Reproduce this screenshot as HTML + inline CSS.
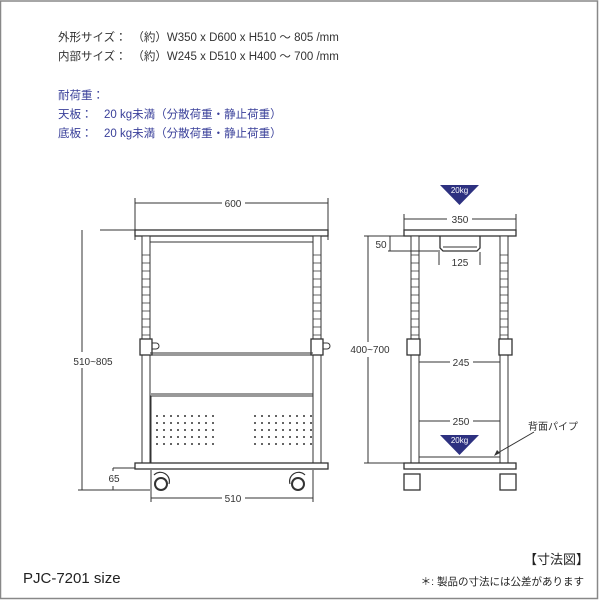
<!DOCTYPE html>
<html><head><meta charset="utf-8"><style>
body{margin:0;background:#fff}
svg{display:block}
text{font-family:"Liberation Sans","Noto Sans CJK JP",sans-serif}
</style></head><body>
<svg width="600" height="600" viewBox="0 0 600 600" xmlns="http://www.w3.org/2000/svg">
<rect x="0.5" y="1" width="597" height="597.5" fill="#fff" stroke="#888" stroke-width="1.5"/>
<g font-size="11.5" fill="#333">
<text x="58" y="41">外形サイズ：　（約）W350 x D600 x H510 ～ 805 /mm</text>
<text x="58" y="60">内部サイズ：　（約）W245 x D510 x H400 ～ 700 /mm</text>
</g>
<g font-size="11.5" fill="#3a409a">
<text x="58" y="99">耐荷重：</text>
<text x="58" y="118">天板：　20 kg未満（分散荷重・静止荷重）</text>
<text x="58" y="137">底板：　20 kg未満（分散荷重・静止荷重）</text>
</g>
<g stroke="#333" fill="none" stroke-width="1">
<!-- front view -->
<line x1="135" y1="198" x2="135" y2="240"/><line x1="328" y1="198" x2="328" y2="240"/>
<line x1="135" y1="203" x2="222" y2="203"/><line x1="245" y1="203" x2="328" y2="203"/>
<rect x="135" y="230" width="193" height="6" fill="#fff" stroke-width="1.3"/>
<rect x="148" y="236" width="167" height="6"/>
<rect x="142" y="236" width="8" height="229" fill="#fff"/>
<rect x="313" y="236" width="8" height="229" fill="#fff"/>
<g stroke-width="0.8">
<path d="M142 255h8M142 263h8M142 271h8M142 279h8M142 287h8M142 295h8M142 303h8M142 311h8M142 319h8M142 327h8M142 335h8"/>
<path d="M313 255h8M313 263h8M313 271h8M313 279h8M313 287h8M313 295h8M313 303h8M313 311h8M313 319h8M313 327h8M313 335h8"/>
</g>
<rect x="140" y="339" width="12" height="16" fill="#fff" stroke-width="1.3"/>
<path d="M152 343h4a3 3 0 0 1 0 6h-4"/>
<rect x="311" y="339" width="12" height="16" fill="#fff" stroke-width="1.3"/>
<path d="M323 343h4a3 3 0 0 1 0 6h-4"/>
<line x1="150" y1="353" x2="313" y2="353"/><line x1="150" y1="355" x2="313" y2="355"/>
<rect x="151" y="396" width="162" height="67"/>
<line x1="151" y1="394" x2="313" y2="394"/>
<rect x="135" y="463" width="193" height="6" fill="#fff" stroke-width="1.3"/>
<circle cx="161" cy="484" r="6" stroke-width="2"/>
<path d="M154 475a9 9 0 0 1 15 9" stroke-width="1.2"/>
<circle cx="298" cy="484" r="6" stroke-width="2"/>
<path d="M305 475a9 9 0 0 0 -15 9" stroke-width="1.2"/>
<line x1="151" y1="470" x2="151" y2="502"/><line x1="313" y1="470" x2="313" y2="502"/>
<line x1="151" y1="498" x2="222" y2="498"/><line x1="245" y1="498" x2="313" y2="498"/>
<line x1="100" y1="230" x2="135" y2="230"/>
<line x1="82" y1="230" x2="82" y2="352"/><line x1="82" y1="368" x2="82" y2="490"/>
<line x1="78" y1="490" x2="150" y2="490"/>
<line x1="113" y1="468" x2="135" y2="468"/>
<line x1="113" y1="468" x2="113" y2="471"/><line x1="113" y1="486" x2="113" y2="490"/>
<!-- side view -->
<line x1="404" y1="214" x2="404" y2="232"/><line x1="516" y1="214" x2="516" y2="232"/>
<line x1="404" y1="219" x2="447" y2="219"/><line x1="472" y1="219" x2="516" y2="219"/>
<rect x="404" y="230" width="112" height="6" fill="#fff" stroke-width="1.3"/>
<rect x="411" y="236" width="8" height="227" fill="#fff"/>
<rect x="500" y="236" width="8" height="227" fill="#fff"/>
<g stroke-width="0.8">
<path d="M411 255h8M411 263h8M411 271h8M411 279h8M411 287h8M411 295h8M411 303h8M411 311h8M411 319h8M411 327h8M411 335h8"/>
<path d="M500 255h8M500 263h8M500 271h8M500 279h8M500 287h8M500 295h8M500 303h8M500 311h8M500 319h8M500 327h8M500 335h8"/>
</g>
<rect x="407" y="339" width="13" height="16" fill="#fff" stroke-width="1.3"/>
<rect x="499" y="339" width="13" height="16" fill="#fff" stroke-width="1.3"/>
<path d="M440 236v12l3 3h34l3-3v-12" stroke-width="1.3"/>
<line x1="443" y1="247" x2="477" y2="247"/>
<line x1="388" y1="236" x2="404" y2="236"/>
<line x1="388" y1="251" x2="440" y2="251"/>
<line x1="390" y1="236" x2="390" y2="251"/>
<line x1="439" y1="252" x2="439" y2="265"/><line x1="480" y1="252" x2="480" y2="265"/>
<line x1="364" y1="236" x2="404" y2="236"/>
<line x1="368" y1="236" x2="368" y2="342"/><line x1="368" y1="357" x2="368" y2="463"/>
<line x1="364" y1="463" x2="404" y2="463"/>
<line x1="419" y1="362" x2="450" y2="362"/><line x1="473" y1="362" x2="500" y2="362"/>
<line x1="419" y1="421" x2="450" y2="421"/><line x1="473" y1="421" x2="500" y2="421"/>
<rect x="419" y="457" width="81" height="6"/>
<rect x="404" y="463" width="112" height="6" fill="#fff" stroke-width="1.3"/>
<rect x="404" y="474" width="16" height="16" stroke-width="1.3"/>
<rect x="500" y="474" width="16" height="16" stroke-width="1.3"/>
<line x1="534" y1="432" x2="496" y2="454"/>
</g>
<path d="M494 456l3-6 3 3z" fill="#333"/>
<g fill="#333">
<g id="dl">
<circle cx="157" cy="416" r="1"/><circle cx="164" cy="416" r="1"/><circle cx="171" cy="416" r="1"/><circle cx="178" cy="416" r="1"/><circle cx="185" cy="416" r="1"/><circle cx="192" cy="416" r="1"/><circle cx="199" cy="416" r="1"/><circle cx="206" cy="416" r="1"/><circle cx="213" cy="416" r="1"/>
</g>
<use href="#dl" y="7"/><use href="#dl" y="14"/><use href="#dl" y="21"/><use href="#dl" y="28"/>
<use href="#dl" x="98"/><use href="#dl" x="98" y="7"/><use href="#dl" x="98" y="14"/><use href="#dl" x="98" y="21"/><use href="#dl" x="98" y="28"/>
</g>
<path d="M440 185h39l-19.5 20z" fill="#2d3180"/>
<path d="M440 435h39l-19.5 20z" fill="#2d3180"/>
<g font-size="8" fill="#fff" text-anchor="middle"><text x="459.5" y="193">20kg</text><text x="459.5" y="443">20kg</text></g>
<g font-size="10" fill="#333" text-anchor="middle">
<text x="233" y="207">600</text>
<text x="233" y="502">510</text>
<text x="93" y="365">510~805</text>
<text x="114" y="482">65</text>
<text x="460" y="223">350</text>
<text x="381" y="248">50</text>
<text x="460" y="266">125</text>
<text x="370" y="353">400~700</text>
<text x="461" y="366">245</text>
<text x="461" y="425">250</text>
<text x="553" y="430">背面パイプ</text>
</g>
<text x="23" y="583" font-size="15" fill="#222">PJC-7201 size</text>
<text x="589" y="564" font-size="13" fill="#222" text-anchor="end">【寸法図】</text>
<text x="584" y="585" font-size="10.5" fill="#222" text-anchor="end">＊: 製品の寸法には公差があります</text>
</svg>
</body></html>
